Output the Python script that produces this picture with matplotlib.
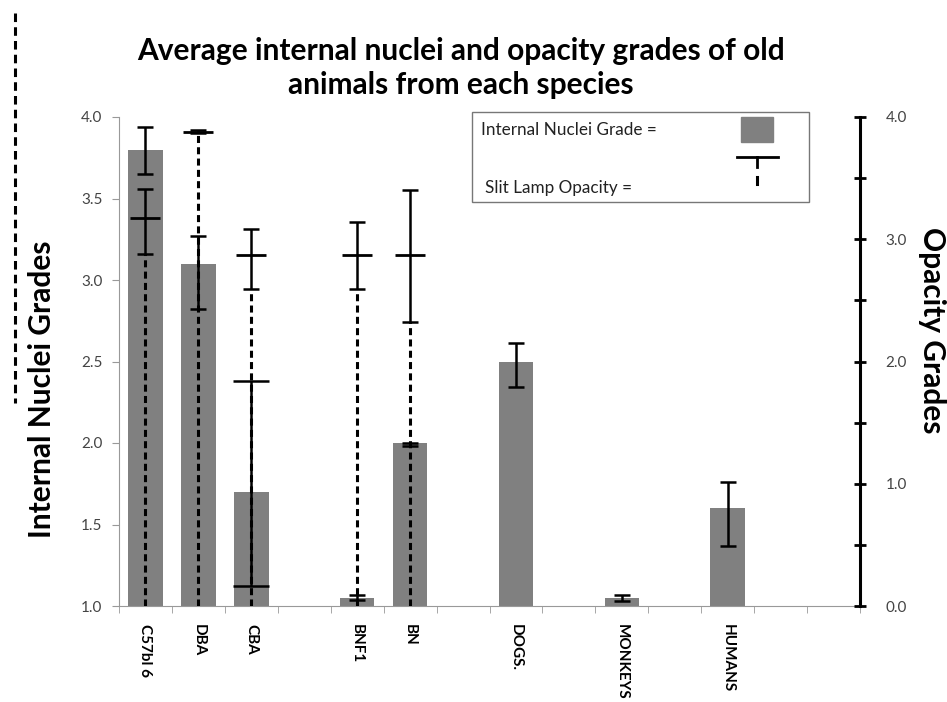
import numpy as np
import matplotlib.pyplot as plt
from matplotlib.lines import Line2D
from matplotlib.patches import Rectangle
from matplotlib.ticker import MultipleLocator, FixedLocator

plt.rcParams['font.family'] = ['Lato', 'DejaVu Sans']

# === Data (one slot per category column, blanks are empty columns) ===
slots = ["C57bl 6", "DBA", "CBA", "", "BNF1", "BN", "", "DOGS.", "",
         "MONKEYS", "", "HUMANS", "", ""]
nuclei = [3.80, 3.10, 1.70, np.nan, 1.05, 2.00, np.nan, 2.50, np.nan,
          1.05, np.nan, 1.60, np.nan, np.nan]
nuclei_lo = [0.15, 0.28, 0.58, 0, 0.015, 0.02, 0, 0.155, 0, 0.02, 0, 0.23, 0, 0]
nuclei_hi = [0.14, 0.17, 0.68, 0, 0.015, 0.0, 0, 0.115, 0, 0.017, 0, 0.16, 0, 0]

opacity = [3.17, 3.88, 2.87, np.nan, 2.87, 2.87, np.nan, np.nan, np.nan,
           np.nan, np.nan, np.nan, np.nan, np.nan]
opacity_lo = [0.29, 0.01, 0.28, 0, 0.28, 0.55, 0, 0, 0, 0, 0, 0, 0, 0]
opacity_hi = [0.24, 0.01, 0.21, 0, 0.27, 0.53, 0, 0, 0, 0, 0, 0, 0, 0]

W, H = 947, 702
x = np.arange(len(slots))
nuc = np.array(nuclei)
op = np.array(opacity)

fig = plt.figure(figsize=(W / 100, H / 100), dpi=100)
ax = fig.add_axes([119 / W, 1 - 606 / H, 741 / W, 489 / H])

# === Nuclei bars ===
ax.bar(x, nuc - 1, bottom=1, width=0.65, color="#808080", zorder=2)
for i in range(len(slots)):
    if np.isnan(nuc[i]):
        continue
    cap = 13 if slots[i] == "CBA" else 5.5
    ax.errorbar(x[i], nuc[i], yerr=[[nuclei_lo[i]], [nuclei_hi[i]]], fmt="none",
                ecolor="black", elinewidth=1.8, capsize=cap, capthick=1.8, zorder=3)

ax.set_xlim(-0.5, len(slots) - 0.5)
ax.set_ylim(1, 4)
ax.yaxis.set_major_locator(MultipleLocator(0.5))
ax.set_yticklabels([f"{v:.1f}" for v in ax.get_yticks()])
ax.set_xticks(x)
ax.set_xticklabels(slots, rotation=270, fontweight="bold", fontsize=11)
ax.xaxis.set_minor_locator(FixedLocator(np.arange(len(slots) + 1) - 0.5))
ax.tick_params(axis="x", which="major", length=0, pad=13)
ax.tick_params(axis="x", which="minor", length=5, color="#999999", direction="out")
ax.tick_params(axis="y", length=5, color="#999999", labelsize=11,
               labelcolor="#444444", pad=7)
for s in ["top", "right"]:
    ax.spines[s].set_visible(False)
ax.spines["left"].set_color("#999999")
ax.spines["bottom"].set_color("#999999")

# === Opacity grades on the right axis ===
ax2 = ax.twinx()
ax2.set_ylim(0, 4)
mask = ~np.isnan(op)
lo = np.array(opacity_lo)[mask]
hi = np.array(opacity_hi)[mask]
ax2.errorbar(x[mask], op[mask], yerr=[lo, hi], fmt="none", ecolor="black",
             elinewidth=1.8, capsize=5.5, capthick=1.8, zorder=4)
ax2.plot(x[mask], op[mask], ls="none", marker="_", ms=21, mew=2, color="black", zorder=5)
ax2.vlines(x[mask], 0, op[mask] - lo, colors="black", linewidth=2.2,
           linestyles=(0, (2.3, 1.4)), zorder=4)

ax2.yaxis.set_major_locator(MultipleLocator(1.0))
ax2.yaxis.set_minor_locator(MultipleLocator(0.5))
ax2.set_yticklabels([f"{v:.1f}" for v in ax2.get_yticks()])
ax2.tick_params(axis="y", which="both", direction="inout", length=9, width=2,
                color="black", labelsize=11, labelcolor="#444444", pad=14)
for s in ["top", "left", "bottom"]:
    ax2.spines[s].set_visible(False)
ax2.spines["right"].set_linewidth(2.2)
ax2.spines["right"].set_color("black")

# === Titles and axis labels ===
fig.text(461 / W, 1 - 68 / H,
         "Average internal nuclei and opacity grades of old\nanimals from each species",
         ha="center", va="center", fontsize=21.5, fontweight="bold", linespacing=1.3)
fig.text(42 / W, 1 - 389 / H, "Internal Nuclei Grades", rotation=90,
         ha="center", va="center", fontsize=21.5, fontweight="bold")
fig.text(932 / W, 1 - 330 / H, "Opacity Grades", rotation=270,
         ha="center", va="center", fontsize=21.5, fontweight="bold")

# stray dashed line at the far left
fig.add_artist(Line2D([15 / W, 15 / W], [1 - 13 / H, 1 - 403 / H], color="black",
                      lw=2.2, ls=(0, (2.8, 1.7))))

# === Hand-drawn legend box ===
fig.add_artist(Rectangle((472 / W, 1 - 202 / H), 337 / W, 90 / H, fill=False,
                         edgecolor="#777777", lw=1))
fig.text(481 / W, 1 - 130 / H, "Internal Nuclei Grade =", ha="left", va="center",
         fontsize=12.3, color="#222222")
fig.text(485 / W, 1 - 188 / H, "Slit Lamp Opacity =", ha="left", va="center",
         fontsize=12.3, color="#222222")
fig.add_artist(Rectangle((741 / W, 1 - 142 / H), 32 / W, 25 / H, color="#808080"))
fig.add_artist(Line2D([737 / W, 778 / W], [1 - 157 / H, 1 - 157 / H], color="black", lw=2))
fig.add_artist(Line2D([757 / W, 757 / W], [1 - 157 / H, 1 - 167 / H], color="black", lw=2))
fig.add_artist(Line2D([757 / W, 757 / W], [1 - 177 / H, 1 - 184 / H], color="black", lw=2.2))

fig.savefig("out.png", dpi=100)
